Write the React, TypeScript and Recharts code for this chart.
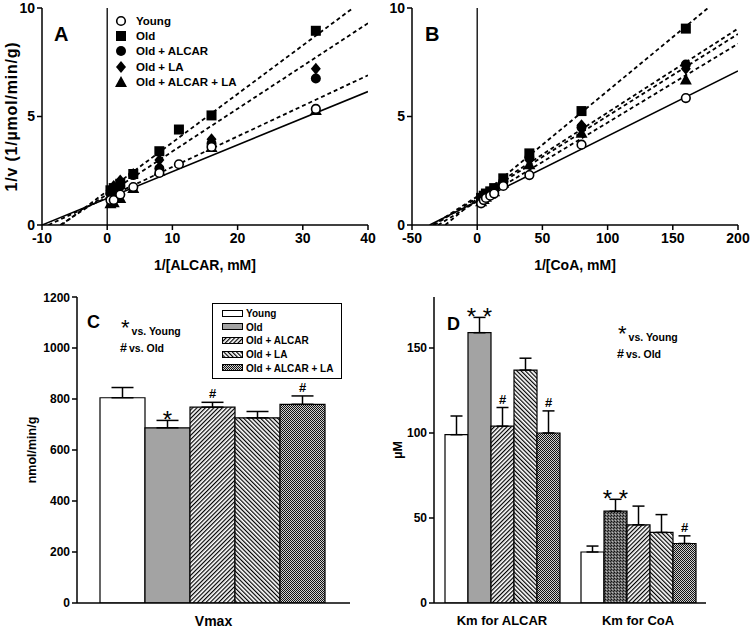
import React from 'react';
import {
  Bar,
  BarChart,
  Cell,
  ComposedChart,
  ErrorBar,
  LabelList,
  Legend,
  ReferenceLine,
  Scatter,
  XAxis,
  YAxis,
} from 'recharts';

const FONT = '"Liberation Sans", Arial, sans-serif';

// treatment groups (shared by all panels)
const groups = ['Young', 'Old', 'Old + ALCAR', 'Old + LA', 'Old + ALCAR + LA'];
const keys = ['young', 'old', 'alcar', 'la', 'both'];

// panel A: Lineweaver-Burk, 1/[ALCAR]
const aYoung = [[0.5, 1.15], [1, 1.15], [2, 1.4], [4, 1.75], [8, 2.4], [11, 2.8], [16, 3.6], [32, 5.35]];
const aOld = [[0.5, 1.6], [1, 1.7], [2, 1.9], [4, 2.35], [8, 3.4], [11, 4.4], [16, 5.05], [32, 8.95]];
const aAlcar = [[0.5, 1.45], [1, 1.55], [2, 1.8], [4, 2.3], [8, 2.6], [16, 3.75], [32, 6.75]];
const aLa = [[0.5, 1.6], [1, 1.8], [2, 2.05], [4, 2.35], [8, 3.0], [16, 3.95], [32, 7.2]];
const aBoth = [[0.5, 1.0], [1, 1.05], [2, 1.25], [4, 1.7], [8, 2.5], [16, 3.6], [32, 5.3]];
const aFitYoung = [[-10, 0], [40, 6.15]];
const aFitDashed = [
  [[-9, 0], [40, 6.9]],
  [[-7.2, 0], [40, 9.3]],
  [[-7, 0], [37.7, 10]],
];

// panel B: Lineweaver-Burk, 1/[CoA]
const bYoung = [[3, 1.0], [5, 1.15], [6.7, 1.25], [10, 1.35], [13, 1.45], [20, 1.8], [40, 2.3], [80, 3.7], [160, 5.85]];
const bOld = [[3, 1.25], [5, 1.35], [6.7, 1.45], [10, 1.55], [13, 1.7], [20, 2.15], [40, 3.3], [80, 5.25], [160, 9.05]];
const bAlcar = [[3, 1.15], [5, 1.3], [6.7, 1.4], [10, 1.5], [13, 1.6], [20, 2.0], [40, 3.1], [80, 4.5], [160, 7.4]];
const bLa = [[3, 1.2], [5, 1.3], [6.7, 1.4], [10, 1.5], [13, 1.6], [20, 2.0], [40, 3.0], [80, 4.6], [160, 7.2]];
const bBoth = [[3, 1.1], [5, 1.2], [6.7, 1.3], [10, 1.45], [13, 1.55], [20, 1.95], [40, 2.8], [80, 4.25], [160, 6.7]];
const bFitYoung = [[-36.5, 0], [200, 7.1]];
const bFitDashed = [
  [[-24.5, 0], [177, 10]],
  [[-34, 0], [200, 9.05]],
  [[-33, 0], [200, 8.8]],
  [[-30, 0], [200, 8.35]],
];

// panel C: Vmax
const vmax = [805, 687, 768, 726, 779];
const vmaxErr = [40, 29, 19, 25, 33];
const vmaxMarks = ['', '*', '#', '', '#'];

// panel D: Km
const kmCategories = ['Km for ALCAR', 'Km for CoA'];
const kmAlcar = [99, 159, 104, 137, 100];
const kmAlcarErr = [11, 9, 11, 7, 13];
const kmAlcarMarks = ['', '* *', '#', '', '#'];
const kmCoa = [30, 54, 46, 41.5, 35];
const kmCoaErr = [3.5, 7, 11, 10.5, 4.5];
const kmCoaMarks = ['', '* *', '', '', '#'];

const pts = (a: number[][]) => a.map(([x, y]) => ({ x, y }));

const barRow = (name: string, vals: number[], errs: number[], marks: string[]) => {
  const r: any = { name };
  keys.forEach((k, i) => {
    r[k] = vals[i];
    r[k + 'Err'] = [0, errs[i]];
    r[k + 'Top'] = errs[i];
    r[k + 'Mark'] = marks[i];
  });
  return r;
};
const vmaxRows = [barRow('Vmax', vmax, vmaxErr, vmaxMarks)];
const kmRows = [
  barRow(kmCategories[0], kmAlcar, kmAlcarErr, kmAlcarMarks),
  barRow(kmCategories[1], kmCoa, kmCoaErr, kmCoaMarks),
];

const fills = ['#fff', '#a3a3a3', 'url(#hatchFwd)', 'url(#hatchBack)', 'url(#checker)'];

// markers
const markers: Record<string, (p: any) => React.ReactElement> = {
  young: (p) => <circle cx={p.cx} cy={p.cy} r={4.3} fill="#fff" stroke="#000" strokeWidth={1.6} />,
  old: (p) => <rect x={p.cx - 5} y={p.cy - 5} width={10} height={10} fill="#000" />,
  alcar: (p) => <circle cx={p.cx} cy={p.cy} r={5} fill="#000" />,
  la: (p) => (
    <path d={`M${p.cx},${p.cy - 6}L${p.cx + 5},${p.cy}L${p.cx},${p.cy + 6}L${p.cx - 5},${p.cy}Z`} fill="#000" />
  ),
  both: (p) => (
    <path d={`M${p.cx},${p.cy - 6}L${p.cx + 6},${p.cy + 5}L${p.cx - 6},${p.cy + 5}Z`} fill="#000" />
  ),
};
const noShape = () => <g />;

const axisLine = { stroke: '#000', strokeWidth: 1.5 };
const tick = (size: number) => ({ fill: '#000', fontSize: size, fontWeight: 700, fontFamily: FONT });
const labelStyle = (size: number) => ({ fill: '#000', fontSize: size, fontWeight: 700, fontFamily: FONT, textAnchor: 'middle' as const });

const ScatterLegend = () => (
  <div style={{ fontFamily: FONT, fontWeight: 700, fontSize: 11.5 }}>
    {groups.map((g, i) => (
      <div key={g} style={{ display: 'flex', alignItems: 'center', height: 15.4 }}>
        <svg width={14} height={14} style={{ marginRight: 8 }}>
          {markers[keys[i]]({ cx: 7, cy: 7 })}
        </svg>
        <span>{g}</span>
      </div>
    ))}
  </div>
);

const BarLegend = () => (
  <div
    style={{
      border: '1.5px solid #000',
      background: '#fff',
      boxSizing: 'border-box',
      width: 130,
      height: 76,
      padding: '3px 0 0 9px',
      fontFamily: FONT,
      fontWeight: 700,
      fontSize: 10,
    }}
  >
    {groups.map((g, i) => (
      <div key={g} style={{ display: 'flex', alignItems: 'center', height: 13.6 }}>
        <svg width={22} height={8} style={{ marginRight: 2 }}>
          <rect x={0.5} y={0.5} width={20} height={6} fill={fills[i]} stroke="#000" />
        </svg>
        <span>{g}</span>
      </div>
    ))}
  </div>
);

const markLabel = (props: any) => {
  const vb = props.viewBox || props;
  const x = vb.x ?? props.x;
  const y = vb.y ?? props.y;
  const w = vb.width ?? props.width;
  const v = props.value;
  if (!v) return null;
  const star = String(v).includes('*');
  return (
    <text
      x={x + w / 2}
      y={star ? y + 8 : y - 4}
      textAnchor="middle"
      fontSize={star ? 24 : 13}
      fontWeight={star ? 400 : 700}
      fontFamily={FONT}
      fill="#000"
    >
      {v}
    </text>
  );
};

function KineticsPanel({
  series,
  fitYoung,
  fitDashed,
  xDomain,
  xTicks,
  xLabel,
  yLabel,
  width,
  yWidth,
  legend,
}: any) {
  return (
    <ComposedChart width={width} height={290} margin={{ top: 8, right: 12, bottom: 0, left: 0 }}>
      <XAxis
        type="number"
        dataKey="x"
        domain={xDomain}
        ticks={xTicks}
        allowDataOverflow
        axisLine={axisLine}
        tickLine={axisLine}
        tickSize={5}
        tickMargin={3}
        tick={tick(14)}
        height={65}
        label={{ value: xLabel, position: 'insideBottom', offset: 20, style: labelStyle(14) }}
      />
      <YAxis
        type="number"
        dataKey="y"
        domain={[0, 10]}
        ticks={[0, 5, 10]}
        allowDataOverflow
        axisLine={axisLine}
        tickLine={axisLine}
        tickSize={5}
        tickMargin={2}
        tick={tick(14)}
        width={yWidth}
        label={
          yLabel
            ? { value: yLabel, angle: -90, position: 'insideLeft', offset: 11, style: { ...labelStyle(16), letterSpacing: 0.8 } }
            : undefined
        }
      />
      <ReferenceLine x={0} stroke="#000" strokeWidth={1.3} />
      {fitDashed.map((f: number[][], i: number) => (
        <Scatter
          key={'d' + i}
          data={pts(f)}
          shape={noShape}
          line={{ stroke: '#000', strokeWidth: 1.8, strokeDasharray: '4 3' }}
          legendType="none"
          isAnimationActive={false}
        />
      ))}
      <Scatter data={pts(fitYoung)} shape={noShape} line={{ stroke: '#000', strokeWidth: 1.6 }} legendType="none" isAnimationActive={false} />
      {['old', 'alcar', 'la', 'both', 'young'].map((k) => (
        <Scatter key={k} data={pts(series[k])} shape={markers[k]} isAnimationActive={false} />
      ))}
      {legend && (
        <Legend
          layout="vertical"
          align="center"
          verticalAlign="middle"
          wrapperStyle={{ left: 114, top: 13, width: 170 }}
          content={() => <ScatterLegend />}
        />
      )}
    </ComposedChart>
  );
}

function BarPanel({ rows, width, yWidth, right, domain, ticks, gap, capWidth, yLabel, yLabelOffset, legend, tickSize, oldFills }: any) {
  return (
    <BarChart
      width={width}
      height={339}
      data={rows}
      margin={{ top: 7, right, bottom: 0, left: 0 }}
      barCategoryGap={gap}
      barGap={0}
    >
      <XAxis dataKey="name" axisLine={axisLine} tickLine={false} tick={tick(tickSize)} tickMargin={7} height={26} />
      <XAxis xAxisId="top" orientation="top" dataKey="name" axisLine={axisLine} tickLine={false} tick={false} height={0} />
      <YAxis
        domain={domain}
        ticks={ticks}
        allowDataOverflow
        axisLine={axisLine}
        tickLine={axisLine}
        tickSize={5}
        tickMargin={2}
        tick={tick(12)}
        width={yWidth}
        label={{ value: yLabel, angle: -90, position: 'insideLeft', offset: yLabelOffset, style: labelStyle(12.5) }}
      />
      <YAxis yAxisId="right" orientation="right" domain={domain} axisLine={axisLine} tickLine={false} tick={false} width={0} />
      {keys.map((k, i) => [
        <Bar key={k} dataKey={k} stackId={k} fill={fills[i]} stroke="#000" strokeWidth={1.2} isAnimationActive={false}>
          {k === 'old' && oldFills && rows.map((r: any, j: number) => <Cell key={j} fill={oldFills[j]} />)}
          <ErrorBar dataKey={k + 'Err'} width={capWidth} stroke="#000" strokeWidth={1.5} />
        </Bar>,
        <Bar key={k + 'Top'} dataKey={k + 'Top'} stackId={k} fill="transparent" stroke="none" legendType="none" isAnimationActive={false}>
          <LabelList dataKey={k + 'Mark'} content={markLabel} />
        </Bar>,
      ])}
      {legend && (
        <Legend
          layout="vertical"
          align="center"
          verticalAlign="middle"
          wrapperStyle={{ left: 212, top: 13, width: 130 }}
          content={() => <BarLegend />}
        />
      )}
    </BarChart>
  );
}

const txt = { fontFamily: FONT, fontWeight: 700, fill: '#000' };

// significance key: big asterisk / hash followed by small bold text, one text element per line
const SigKey = ({ x, y }: { x: number; y: number }) => (
  <g>
    <text x={x + 1} y={y} {...txt} fontSize={10.5}>
      <tspan fontSize={22} fontWeight={400}>*</tspan>
      <tspan dx={2}>vs. Young</tspan>
    </text>
    <text x={x} y={y + 17} {...txt} fontSize={10.5}>
      <tspan fontSize={12.5}>#</tspan>
      <tspan dx={2}>vs. Old</tspan>
    </text>
  </g>
);

export default function App() {
  return (
    <div style={{ position: 'absolute', left: 0, top: 0, width: 750, height: 629, background: '#fff', overflow: 'hidden' }}>
      <svg width={0} height={0} style={{ position: 'absolute' }}>
        <defs>
          <pattern id="hatchFwd" width={3} height={3} patternUnits="userSpaceOnUse" patternTransform="rotate(45)">
            <rect width={3} height={3} fill="#fff" />
            <line x1={0.6} y1={0} x2={0.6} y2={3} stroke="#000" strokeWidth={1.2} />
          </pattern>
          <pattern id="hatchBack" width={3} height={3} patternUnits="userSpaceOnUse" patternTransform="rotate(-45)">
            <rect width={3} height={3} fill="#fff" />
            <line x1={0.6} y1={0} x2={0.6} y2={3} stroke="#000" strokeWidth={1.2} />
          </pattern>
          <pattern id="checker" width={2} height={2} patternUnits="userSpaceOnUse">
            <rect width={2} height={2} fill="#cfcfcf" />
            <rect width={1} height={1} fill="#111" />
            <rect x={1} y={1} width={1} height={1} fill="#111" />
          </pattern>
          <pattern id="stipple" width={3} height={3} patternUnits="userSpaceOnUse">
            <rect width={3} height={3} fill="#6a6a6a" />
            <rect width={1} height={1} fill="#111" />
            <rect x={2} y={1} width={1} height={1} fill="#222" />
            <rect x={1} y={2} width={1} height={1} fill="#bbb" />
          </pattern>
        </defs>
      </svg>

      <div style={{ position: 'absolute', left: 0, top: 0 }}>
        <KineticsPanel
          series={{ young: aYoung, old: aOld, alcar: aAlcar, la: aLa, both: aBoth }}
          fitYoung={aFitYoung}
          fitDashed={aFitDashed}
          xDomain={[-10, 40]}
          xTicks={[-10, 0, 10, 20, 30, 40]}
          xLabel="1/[ALCAR, mM]"
          yLabel="1/v (1/µmol/min/g)"
          width={380}
          yWidth={42}
          legend
        />
      </div>
      <div style={{ position: 'absolute', left: 380, top: 0 }}>
        <KineticsPanel
          series={{ young: bYoung, old: bOld, alcar: bAlcar, la: bLa, both: bBoth }}
          fitYoung={bFitYoung}
          fitDashed={bFitDashed}
          xDomain={[-50, 200]}
          xTicks={[-50, 0, 50, 100, 150, 200]}
          xLabel="1/[CoA, mM]"
          width={370}
          yWidth={32}
        />
      </div>
      <div style={{ position: 'absolute', left: 0, top: 290 }}>
        <BarPanel
          rows={vmaxRows}
          width={380}
          yWidth={77}
          right={30}
          domain={[0, 1200]}
          ticks={[0, 200, 400, 600, 800, 1000, 1200]}
          gap={23}
          capWidth={11}
          yLabel="nmol/min/g"
          yLabelOffset={32}
          tickSize={14}
          legend
        />
      </div>
      <div style={{ position: 'absolute', left: 380, top: 290 }}>
        <BarPanel
          rows={kmRows}
          width={370}
          yWidth={54}
          right={44}
          domain={[0, 180]}
          ticks={[0, 50, 100, 150]}
          gap={11}
          capWidth={6}
          yLabel="µM"
          yLabelOffset={18}
          tickSize={13}
          oldFills={['#a3a3a3', 'url(#stipple)']}
        />
      </div>

      <svg width={750} height={629} style={{ position: 'absolute', left: 0, top: 0, pointerEvents: 'none' }}>
        <text x={54} y={41} fontSize={20} {...txt}>A</text>
        <text x={425} y={41} fontSize={20} {...txt}>B</text>
        <text x={87} y={328} fontSize={18} {...txt}>C</text>
        <text x={447} y={330} fontSize={18} {...txt}>D</text>
        <SigKey x={120} y={335} />
        <SigKey x={617} y={341} />
      </svg>
    </div>
  );
}
